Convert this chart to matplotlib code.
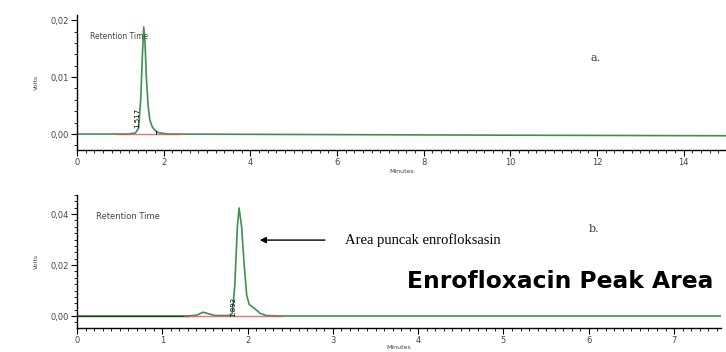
import numpy as np
import matplotlib.pyplot as plt
from matplotlib.ticker import MultipleLocator, FuncFormatter

# chromatogram a (standard)
time_a = [0.0, 1.2, 1.35, 1.42, 1.47, 1.51, 1.54, 1.57, 1.60, 1.64, 1.68, 1.74, 1.82, 1.90, 2.1, 6.0, 10.0, 15.0]
volt_a = [0.0, 0.0, 0.0002, 0.001, 0.006, 0.014, 0.0188, 0.016, 0.010, 0.005, 0.0025, 0.0012, 0.0005, 0.0002, 0.0, -0.0001, -0.0002, -0.0003]
base_a = [0.9, 2.4]
rt_a = "1.517"

# chromatogram b (sample)
time_b = [0.0, 1.3, 1.4, 1.48, 1.55, 1.62, 1.78, 1.82, 1.85, 1.88, 1.90, 1.93, 1.96, 1.99, 2.02, 2.08, 2.15, 2.22, 2.35, 7.6]
volt_b = [0.0, 0.0, 0.0003, 0.0015, 0.0008, 0.0002, 0.0002, 0.001, 0.012, 0.035, 0.0424, 0.035, 0.020, 0.008, 0.0045, 0.003, 0.001, 0.0002, 0.0, 0.0]
base_b = [1.25, 2.4]
rt_b = "1.892"

green = '#3f8f55'
grey = '#444444'

def comma(v, pos):
    return f"{v:.2f}".replace('.', ',')

def style_axis(ax, xmaj, xmin, ymaj, ymin):
    for s in ['top', 'right']:
        ax.spines[s].set_visible(False)
    ax.spines['left'].set_linewidth(1.0)
    ax.spines['bottom'].set_linewidth(1.0)
    ax.xaxis.set_major_locator(MultipleLocator(xmaj))
    ax.xaxis.set_minor_locator(MultipleLocator(xmin))
    ax.yaxis.set_major_locator(MultipleLocator(ymaj))
    ax.yaxis.set_minor_locator(MultipleLocator(ymin))
    ax.yaxis.set_major_formatter(FuncFormatter(comma))
    ax.tick_params(which='major', length=4, width=0.8, labelsize=6, labelcolor=grey, pad=2)
    ax.tick_params(which='minor', length=2, width=0.6)

fig = plt.figure(figsize=(7.26, 3.52), dpi=100)

# top panel
ax1 = fig.add_axes([77/726, 1-150/352, 650/726, 135/352])
ax1.plot(time_a, volt_a, color=green, lw=1.2)
ax1.plot(base_a, [0, 0], color='#e05050', lw=1.0, alpha=0.8)
ax1.set_xlim(0, 15)
ax1.set_ylim(-0.0028, 0.0209)
style_axis(ax1, 2, 0.2, 0.01, 0.002)
ax1.set_yticks([0.0, 0.01, 0.02])
ax1.text(0.3, 0.0172, "Retention Time", fontsize=5.5, color=grey, va='center')
ax1.text(1.39, 0.0028, rt_a, rotation=90, fontsize=5, va='center', ha='center')
ax1.plot([1.82, 1.82], [0.0, 0.0006], color='black', lw=0.6)
ax1.text(11.85, 0.0133, "a.", fontsize=8, family='DejaVu Serif', color='#333355', va='center')
ax1.set_ylabel("Volts", fontsize=4.5, color=grey, labelpad=8)
ax1.set_xlabel("Minutes", fontsize=4.5, color=grey, labelpad=1)

# bottom panel
ax2 = fig.add_axes([77/726, 1-328/352, 644/726, 133/352])
ax2.plot(time_b, volt_b, color=green, lw=1.2)
ax2.plot([0, 1.3], [0, 0], color='#204020', lw=1.0)
ax2.plot(base_b, [0, 0], color='#e05050', lw=1.0, alpha=0.8)
ax2.set_xlim(0, 7.55)
ax2.set_ylim(-0.0047, 0.0475)
style_axis(ax2, 1, 0.1, 0.02, 0.0025)
ax2.set_yticks([0.0, 0.02, 0.04])
ax2.text(0.22, 0.039, "Retention Time", fontsize=6, color=grey, va='center')
ax2.text(1.83, 0.0035, rt_b, rotation=90, fontsize=5, va='center', ha='center')
ax2.annotate("", xy=(2.11, 0.0298), xytext=(2.94, 0.0298),
             arrowprops=dict(arrowstyle='-|>', color='black', lw=1.0, mutation_scale=9))
ax2.text(3.14, 0.0298, "Area puncak enrofloksasin", fontsize=10.5,
         family='Liberation Serif', va='center')
ax2.text(6.0, 0.034, "b.", fontsize=8, family='DejaVu Serif', color='#333355', va='center')
ax2.set_ylabel("Volts", fontsize=4.5, color=grey, labelpad=8)
ax2.set_xlabel("Minutes", fontsize=4.5, color=grey, labelpad=0)

fig.text(407/726, 1-282/352, "Enrofloxacin Peak Area", fontsize=16.8,
         family='DejaVu Sans', weight='bold', va='center', ha='left')

plt.savefig("out.png", dpi=100)
plt.close()
